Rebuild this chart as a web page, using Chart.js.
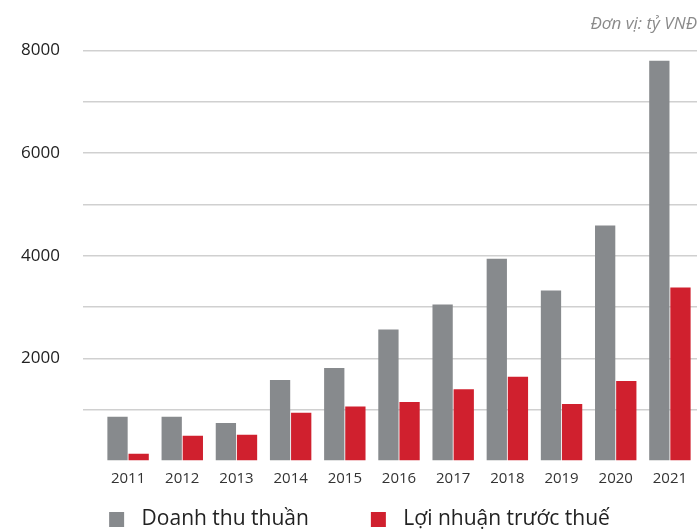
<!DOCTYPE html>
<html>
<head>
<meta charset="utf-8">
<script src="https://cdn.jsdelivr.net/npm/chart.js@4"></script>
<style>
  html, body { margin: 0; padding: 0; background: #fff; }
  #wrap { width: 697px; height: 532px; }
</style>
</head>
<body>
<div id="wrap"><canvas id="chart" width="697" height="532"></canvas></div>
<script>
// Years and values (tỷ VNĐ)
const years = ['2011', '2012', '2013', '2014', '2015', '2016', '2017', '2018', '2019', '2020', '2021'];
const revenue = [860, 860, 740, 1580, 1810, 2560, 3050, 3940, 3320, 4590, 7800];
const profitBeforeTax = [140, 490, 510, 940, 1060, 1150, 1400, 1640, 1110, 1560, 3380];
const seriesNames = ['Doanh thu thuần', 'Lợi nhuận trước thuế'];
const unitLabel = 'Đơn vị: tỷ VNĐ';

const FONT = "'Open Sans', 'Noto Sans', sans-serif";
const GRAY = '#878a8d';
const RED = '#d0202e';

// Legend marker: a square sitting at the right end of a wider blank box,
// so the legend items get the wide spacing of the original
const MARK_W = 64;
function legendMark(color) {
    const c = document.createElement('canvas');
    c.width = MARK_W;
    c.height = 15;
    const g = c.getContext('2d');
    g.fillStyle = color;
    g.fillRect(MARK_W - 22, 0, 15, 15);
    return c;
}
const legendMarks = [legendMark(GRAY), legendMark(RED)];

const ctx = document.getElementById('chart');
new Chart(ctx, {
    type: 'bar',
    data: {
        labels: years,
        datasets: [
            { label: seriesNames[0], data: revenue, backgroundColor: GRAY, barPercentage: 0.96, categoryPercentage: 0.78 },
            { label: seriesNames[1], data: profitBeforeTax, backgroundColor: RED, barPercentage: 0.96, categoryPercentage: 0.78 }
        ]
    },
    options: {
        responsive: false,
        animation: false,
        // negative left/bottom padding nudges the legend left and down
        layout: { padding: { left: -20, right: 0, top: 4, bottom: -8 } },
        scales: {
            x: {
                grid: { display: false },
                border: { display: false },
                ticks: { color: '#333', font: { family: FONT, size: 15 }, padding: 1 }
            },
            y: {
                min: 0,
                max: 8000,
                border: { display: false },
                grid: {
                    color: (c) => c.tick && c.tick.value === 0 ? 'rgba(0,0,0,0)' : '#d0d0d0',
                    lineWidth: 1.5,
                    tickLength: 18
                },
                afterFit: (axis) => { axis.width = 121; },
                ticks: {
                    stepSize: 1000,
                    padding: 23,
                    color: '#222',
                    font: { family: FONT, size: 17 },
                    callback: (v) => (v !== 0 && v % 2000 === 0) ? String(v) : ''
                }
            }
        },
        plugins: {
            title: {
                display: true,
                text: unitLabel,
                align: 'end',
                color: '#8a8a8a',
                font: { family: FONT, size: 17, style: 'italic', weight: 'normal' },
                padding: { top: 10, bottom: 16 }
            },
            legend: {
                position: 'bottom',
                labels: {
                    color: '#222',
                    font: { family: FONT, size: 21 },
                    usePointStyle: true,
                    pointStyleWidth: MARK_W,
                    padding: 20,
                    generateLabels: (chart) => Chart.defaults.plugins.legend.labels.generateLabels(chart)
                        .map((item, i) => ({ ...item, pointStyle: legendMarks[i] }))
                }
            },
            tooltip: { enabled: false }
        }
    }
});
</script>
</body>
</html>
